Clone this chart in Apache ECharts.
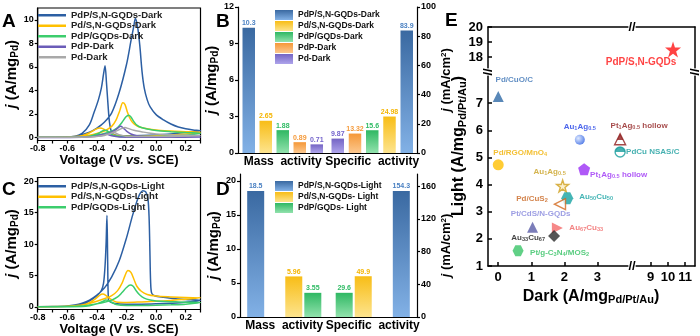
<!DOCTYPE html>
<html>
<head>
<meta charset="utf-8">
<title>Pd catalysts, dark vs light</title>
<script src="https://cdn.jsdelivr.net/npm/echarts@6.0.0/dist/echarts.min.js"></script>
<style>
  html, body { margin: 0; background: #fff; }
  #wrap { position: relative; width: 700px; height: 336px; }
  .layer { position: absolute; left: 0; top: 0; width: 700px; height: 336px; }
</style>
</head>
<body>
<div id="wrap">
  <div class="layer" id="panelA"></div>
  <div class="layer" id="panelB"></div>
  <div class="layer" id="panelC"></div>
  <div class="layer" id="panelD"></div>
  <div class="layer" id="panelE"></div>
</div>
<script>
// ---- values ----
const voltTicks = [-0.8, -0.7, -0.6, -0.5, -0.4, -0.3, -0.2, -0.1, 0, 0.1, 0.2, 0.3]
const voltLabels = [-0.8, -0.6, -0.4, -0.2, 0, 0.2]
const darkCurveTicks = [0, 2, 4, 6, 8, 10]
const lightCurveTicks = [0, 5, 10, 15, 20]

// A: CV scans in the dark, [V, j] in scan order (forward then back)
const darkCurveNames = ['PdP/S,N-GQDs-Dark', 'Pd/S,N-GQDs-Dark', 'PdP/GQDs-Dark', 'PdP-Dark', 'Pd-Dark']
const darkPdPSN = [[-0.8, 0.02], [-0.7, 0.03], [-0.6, 0.06], [-0.55, 0.12], [-0.5, 0.25], [-0.45, 0.45], [-0.4, 0.8], [-0.35, 1.3], [-0.3, 2.1], [-0.25, 3.8], [-0.2, 6.2], [-0.17, 8.2], [-0.15, 9.5], [-0.14, 10.1], [-0.125, 9.4], [-0.11, 7.8], [-0.095, 5.6], [-0.08, 4.2], [-0.06, 3.2], [-0.04, 2.6], [0, 1.95], [0.05, 1.5], [0.1, 1.15], [0.15, 0.9], [0.2, 0.75], [0.25, 0.65], [0.3, 0.58],
  [0.25, 0.5], [0.2, 0.42], [0.1, 0.3], [0, 0.22], [-0.1, 0.18], [-0.2, 0.16], [-0.27, 0.2], [-0.3, 0.45], [-0.315, 1.3], [-0.325, 2.8], [-0.335, 4.6], [-0.345, 6.1], [-0.355, 5.4], [-0.37, 4.2], [-0.39, 3.2], [-0.42, 2.1], [-0.45, 1.1], [-0.5, 0.35], [-0.55, 0.1], [-0.6, 0.04], [-0.8, 0.02]]
const darkPdSN = [[-0.8, 0.02], [-0.6, 0.04], [-0.5, 0.1], [-0.45, 0.2], [-0.4, 0.35], [-0.35, 0.55], [-0.3, 0.95], [-0.27, 1.5], [-0.245, 2.3], [-0.225, 2.95], [-0.21, 2.8], [-0.195, 2.2], [-0.18, 1.7], [-0.16, 1.3], [-0.13, 1.0], [-0.1, 0.85], [-0.05, 0.72], [0, 0.65], [0.1, 0.55], [0.2, 0.5], [0.3, 0.45],
  [0.2, 0.3], [0.1, 0.22], [0, 0.15], [-0.1, 0.12], [-0.2, 0.12], [-0.28, 0.2], [-0.32, 0.45], [-0.35, 0.7], [-0.38, 0.82], [-0.41, 0.7], [-0.45, 0.4], [-0.5, 0.15], [-0.6, 0.04], [-0.8, 0.02]]
const darkPdPGQD = [[-0.8, 0.02], [-0.6, 0.03], [-0.5, 0.06], [-0.45, 0.12], [-0.4, 0.22], [-0.35, 0.35], [-0.3, 0.55], [-0.26, 0.85], [-0.23, 1.3], [-0.205, 1.75], [-0.185, 1.9], [-0.17, 1.75], [-0.15, 1.35], [-0.13, 1.05], [-0.1, 0.85], [-0.05, 0.7], [0, 0.6], [0.1, 0.5], [0.2, 0.42], [0.3, 0.36],
  [0.2, 0.2], [0.1, 0.15], [0, 0.1], [-0.1, 0.08], [-0.2, 0.08], [-0.28, 0.15], [-0.31, 0.35], [-0.335, 0.6], [-0.35, 0.62], [-0.37, 0.5], [-0.4, 0.3], [-0.45, 0.12], [-0.5, 0.05], [-0.8, 0.02]]
const darkPdP = [[-0.8, 0.01], [-0.5, 0.03], [-0.4, 0.1], [-0.33, 0.3], [-0.28, 0.6], [-0.255, 0.85], [-0.24, 0.95], [-0.225, 0.85], [-0.2, 0.55], [-0.17, 0.3], [-0.13, 0.15], [-0.05, 0.08], [0.1, 0.05], [0.3, 0.04],
  [0.1, 0.03], [-0.1, 0.03], [-0.25, 0.05], [-0.3, 0.15], [-0.34, 0.3], [-0.37, 0.25], [-0.42, 0.1], [-0.5, 0.03], [-0.8, 0.01]]
const darkPd = [[-0.8, 0.02], [-0.5, 0.04], [-0.4, 0.1], [-0.32, 0.3], [-0.27, 0.55], [-0.23, 0.78], [-0.21, 0.85], [-0.19, 0.78], [-0.15, 0.62], [-0.1, 0.5], [-0.05, 0.38], [0, 0.3], [0.1, 0.22], [0.3, 0.18],
  [0.1, 0.1], [-0.1, 0.08], [-0.2, 0.1], [-0.25, 0.25], [-0.28, 0.4], [-0.31, 0.35], [-0.36, 0.15], [-0.45, 0.05], [-0.8, 0.02]]

// C: CV scans under light
const lightCurveNames = ['PdP/S,N-GQDs-Light', 'Pd/S,N-GQDs-Light', 'PdP/GQDs-Light']
const lightPdPSN = [[-0.8, 0.05], [-0.7, 0.07], [-0.6, 0.15], [-0.55, 0.3], [-0.5, 0.6], [-0.45, 1.1], [-0.4, 1.9], [-0.35, 3.0], [-0.3, 4.8], [-0.25, 7.3], [-0.2, 11], [-0.16, 14.5], [-0.13, 16.8], [-0.11, 18], [-0.09, 18.5], [-0.07, 18.3], [-0.055, 17.2], [-0.047, 14], [-0.042, 9], [-0.037, 4], [-0.03, 2.2], [-0.01, 1.8], [0.05, 1.55], [0.1, 1.4], [0.2, 1.2], [0.3, 1.05],
  [0.2, 0.75], [0.1, 0.6], [0, 0.5], [-0.1, 0.45], [-0.2, 0.45], [-0.28, 0.55], [-0.31, 0.8], [-0.322, 1.2], [-0.327, 7], [-0.332, 14.6], [-0.338, 10], [-0.345, 6.5], [-0.355, 3.8], [-0.37, 2.6], [-0.4, 1.8], [-0.44, 1.1], [-0.48, 0.55], [-0.53, 0.25], [-0.6, 0.1], [-0.8, 0.05]]
const lightPdSN = [[-0.8, 0.05], [-0.6, 0.1], [-0.5, 0.3], [-0.45, 0.55], [-0.4, 0.9], [-0.35, 1.3], [-0.3, 1.8], [-0.26, 2.6], [-0.23, 3.8], [-0.21, 5.0], [-0.19, 5.8], [-0.17, 5.5], [-0.15, 4.4], [-0.13, 3.3], [-0.1, 2.5], [-0.06, 2.0], [0, 1.75], [0.1, 1.6], [0.2, 1.5], [0.3, 1.45],
  [0.2, 1.25], [0.1, 1.05], [0, 0.9], [-0.1, 0.8], [-0.2, 0.72], [-0.27, 0.8], [-0.31, 1.3], [-0.34, 1.85], [-0.36, 2.05], [-0.38, 1.9], [-0.41, 1.3], [-0.45, 0.7], [-0.5, 0.3], [-0.6, 0.1], [-0.8, 0.05]]
const lightPdPGQD = [[-0.8, 0.03], [-0.6, 0.06], [-0.5, 0.15], [-0.45, 0.3], [-0.4, 0.5], [-0.35, 0.75], [-0.3, 1.1], [-0.26, 1.6], [-0.23, 2.3], [-0.2, 3.1], [-0.175, 3.5], [-0.155, 3.3], [-0.135, 2.6], [-0.11, 1.9], [-0.08, 1.4], [-0.04, 1.1], [0, 0.95], [0.1, 0.85], [0.2, 0.75], [0.3, 0.7],
  [0.2, 0.45], [0.1, 0.35], [0, 0.28], [-0.1, 0.25], [-0.2, 0.25], [-0.27, 0.4], [-0.3, 0.75], [-0.325, 1.05], [-0.34, 1.1], [-0.36, 0.9], [-0.4, 0.5], [-0.45, 0.2], [-0.5, 0.08], [-0.8, 0.03]]

// B / D: activities
const activity = ['Mass  activity', 'Specific  activity']
const darkBarNames = ['PdP/S,N-GQDs-Dark', 'Pd/S,N-GQDs-Dark', 'PdP/GQDs-Dark', 'PdP-Dark', 'Pd-Dark']
const darkMass = [10.3, 2.65, 1.88, 0.89, 0.71]
const darkSpecific = [83.9, 24.98, 15.6, 13.32, 9.87]
const darkMassTicks = [0, 3, 6, 9, 12]
const darkSpecTicks = [0, 20, 40, 60, 80, 100]
const lightBarNames = ['PdP/S,N-GQDs-Light', 'Pd/S,N-GQDs- Light', 'PdP/GQDs- Light']
const lightMass = [18.5, 5.96, 3.55]
const lightSpecific = [154.3, 49.9, 29.6]
const lightMassTicks = [0, 5, 10, 15, 20]
const lightSpecTicks = [0, 40, 80, 120, 160]

// E: literature comparison, dark vs light mass activity
const catNames = ['PdP/S,N-GQDs', 'Pd/CuO/C', 'Au{s|1}Ag{s|0.5}', 'Pt{s|1}Ag{s|0.5} hollow', 'PdCu NSAS/C', 'Pd/RGO/MnO{s|4}',
  'Pt{s|1}Ag{s|0.5} hollow', 'Au{s|1}Ag{s|0.5}', 'Au{s|50}Cu{s|50}', 'Pd/CuS{s|2}', 'Pt/CdS/N-GQDs', 'Au{s|67}Cu{s|33}', 'Au{s|33}Cu{s|67}', 'Pt/g-C{s|3}N{s|4}/MOS{s|2}']
const catDark = [10.3, 0, 2.47, 3.69, 3.69, 0, 2.6, 1.95, 2.09, 1.87, 1.04, 1.79, 1.69, 0.6]
const catLight = [18.5, 7.25, 5.65, 5.67, 5.2, 4.73, 4.57, 3.95, 3.5, 3.28, 2.43, 2.4, 2.11, 1.56]
const eXLow = [0, 1, 2, 3]
const eXHigh = [9, 10, 11]
const eYLow = [1, 2, 3, 4, 5, 6, 7]
const eYHigh = [18, 19, 20]

// ---- styling ----
const font = '"Liberation Sans", Arial, sans-serif'
const ink = '#000'
const curveColors = ['#2c5fa3', '#ffc000', '#3ccd6d', '#6b5cb8', '#a9a9a9']
const barColors = [['#3a69a1', '#82b1e6'], ['#f8bd16', '#fde48e'], ['#2fb863', '#92e2ad'], ['#f59838', '#fcc88f'], ['#7464c4', '#aea4eb']]
const barLabelColors = ['#4a80c2', '#f4b400', '#2fbb64', '#f59a3a', '#7464cc']

const vgrad = (a, b) => new echarts.graphic.LinearGradient(0, 0, 0, 1, [{ offset: 0, color: a }, { offset: 1, color: b }])
const half = c => new echarts.graphic.LinearGradient(0, 0, 0, 1, [{ offset: 0, color: c }, { offset: 0.52, color: c }, { offset: 0.52, color: '#fff' }, { offset: 1, color: '#fff' }])
const sphere = new echarts.graphic.RadialGradient(0.35, 0.35, 0.75, [{ offset: 0, color: '#d6e4ff' }, { offset: 1, color: '#1f55e0' }])
const star = 'path://M50,0 L61.8,35.1 L98.9,35.4 L69.1,57.6 L80.3,93.1 L50,71.6 L19.7,93.1 L30.9,57.6 L1.1,35.4 L38.2,35.1 Z'
const pentagon = 'path://M50,0 L97.6,34.5 L79.4,90.5 L20.6,90.5 L2.4,34.5 Z'
const hexagon = 'path://M25,0 L75,0 L100,50 L75,100 L25,100 L0,50 Z'

const catMarks = [
  { symbol: star, size: 16, fill: '#ff1414', text: '#ff1414', off: [-32, 13], fs: 10 },
  { symbol: 'triangle', size: 11, fill: '#2f6aa6', text: '#3a72b4', off: [16, -17] },
  { symbol: 'circle', size: 10, fill: sphere, text: '#1e3ee6', off: [0, -13] },
  { symbol: 'triangle', size: 11, fill: half('#8e1b1b'), stroke: '#8e1b1b', text: '#8e1b1b', off: [19, -13] },
  { symbol: 'circle', size: 10, fill: half('#169c9c'), stroke: '#169c9c', text: '#169c9c', off: [6, 0], align: 'left' },
  { symbol: 'circle', size: 11, fill: '#ffbf00', text: '#f0b000', off: [22, -12] },
  { symbol: pentagon, size: 12, fill: '#9b2ff5', text: '#9b2ff5', off: [6, 6], align: 'left' },
  { symbol: star, size: 12, fill: '#fbecc0', stroke: '#cfa020', text: '#c9a020', off: [-13, -14] },
  { symbol: hexagon, size: 12, fill: '#16a3a3', text: '#16a3a3', off: [12, -1], align: 'left' },
  { symbol: 'triangle', size: 11, rotate: 90, fill: '#fff', stroke: '#d2691e', text: '#c8641e', off: [-28, -5] },
  { symbol: 'triangle', size: 11, fill: '#5a5ca8', text: '#8486dc', off: [8, -13] },
  { symbol: 'triangle', size: 11, rotate: -90, fill: '#f46a6a', text: '#f06464', off: [12, 0], align: 'left' },
  { symbol: 'diamond', size: 12, fill: '#2b2b2b', text: '#111', off: [-9, 2], align: 'right' },
  { symbol: hexagon, size: 11, fill: '#3ac468', text: '#30c060', off: [12, 2], align: 'left' }
]

function nameStyle(size, sub, extra) {
  return Object.assign({
    color: ink, fontSize: size, fontWeight: 'bold',
    rich: {
      i: { fontStyle: 'italic', fontWeight: 'bold', fontSize: size, color: ink },
      s: { fontSize: sub, fontWeight: 'bold', color: ink, padding: [Math.round(sub * 0.6), 0, 0, 0] },
      p: { fontSize: sub, fontWeight: 'bold', color: ink, padding: [0, 0, Math.round(sub * 0.7), 0] }
    }
  }, extra)
}

function valAxis(o) {
  const lw = o.lw || 1.2
  return {
    type: 'value', gridIndex: o.grid || 0, position: o.pos, min: o.min, max: o.max,
    splitLine: { show: false },
    axisLine: { show: true, onZero: false, lineStyle: { color: ink, width: lw } },
    axisTick: { show: !!o.ticks, inside: !!o.inside, length: o.tickLen || 3, customValues: o.ticks, lineStyle: { color: ink, width: lw } },
    axisLabel: { show: !!o.labels, customValues: o.labels, formatter: o.fmt, margin: o.margin || 4, color: ink, fontSize: o.fs || 9, fontWeight: 'bold' },
    name: o.name, nameLocation: 'middle', nameGap: o.gap, nameTextStyle: o.nameStyle
  }
}

function title(text, left, top) {
  return { text, left, top, padding: 0, textStyle: { fontSize: 19, fontWeight: 'bold', color: ink, fontFamily: font } }
}

function curve(name, data, color) {
  return { name, type: 'line', data, symbol: 'none', smooth: 0.3, lineStyle: { color, width: 1.5 }, itemStyle: { color }, emphasis: { disabled: true } }
}

function barSeries(name, data, xi, yi, ci, w, gap) {
  return {
    name, type: 'bar', xAxisIndex: xi, yAxisIndex: yi, data, barWidth: w, barGap: gap,
    itemStyle: { color: vgrad(barColors[ci][0], barColors[ci][1]) },
    label: { show: true, position: 'top', distance: 1, fontSize: 7, fontWeight: 'bold', color: barLabelColors[ci] },
    emphasis: { disabled: true }
  }
}

function spacer(xi, yi, w, gap) {
  return { type: 'bar', xAxisIndex: xi, yAxisIndex: yi, data: ['-', '-'], barWidth: w, barGap: gap, silent: true }
}

function catAxis(grid, show) {
  return {
    type: 'category', gridIndex: grid, data: activity, show,
    axisLine: { show: true, lineStyle: { color: ink, width: 1.2 } },
    axisTick: { show: false },
    axisLabel: { interval: 0, hideOverlap: false, color: ink, fontSize: 12, fontWeight: 'bold', margin: 3 }
  }
}

const voltFmt = v => v.toFixed(1)
const voltName = 'Voltage (V {i|vs.} SCE)'
const jMass = '{i|j} (A/mg{s|Pd})'
const jArea = '{i|j} (mA/cm{p|2})'

function cvOption(letter, names, curves, grid, ymin, ymax, yticks, legendTop, letterTop) {
  return {
    animation: false,
    textStyle: { fontFamily: font },
    title: title(letter, 2, letterTop),
    legend: {
      orient: 'vertical', left: 38, top: legendTop, padding: 0, itemWidth: 28, itemHeight: 2.5, itemGap: 0, icon: 'rect',
      data: names, textStyle: { fontSize: 9.5, fontWeight: 'bold', color: '#222', lineHeight: 10.5 }
    },
    grid: Object.assign({ show: true, borderColor: ink, borderWidth: 1.2, outerBoundsMode: 'none' }, grid),
    xAxis: valAxis({ min: -0.8, max: 0.3, ticks: voltTicks, labels: voltLabels, fmt: voltFmt, name: voltName, gap: 13, nameStyle: nameStyle(13, 9) }),
    yAxis: valAxis({ min: ymin, max: ymax, ticks: yticks, labels: yticks, name: jMass, gap: 17, nameStyle: nameStyle(15, 10) }),
    series: curves.map((d, i) => curve(names[i], d, curveColors[i]))
  }
}

function barOption(letter, names, grid, legendTop, letterTop, massTicks, massMax, specTicks, specMax, series) {
  return {
    animation: false,
    textStyle: { fontFamily: font },
    title: title(letter, 216, letterTop),
    legend: {
      orient: 'vertical', left: 275, top: legendTop, padding: 0, itemWidth: 18, itemHeight: 10, itemGap: 1, icon: 'rect',
      data: names, textStyle: { fontSize: 8.5, fontWeight: 'bold', color: '#111' }
    },
    grid: Object.assign({ outerBoundsMode: 'none' }, grid),
    xAxis: [catAxis(0, true), catAxis(0, false)],
    yAxis: [
      valAxis({ pos: 'left', min: 0, max: massMax, ticks: massTicks, labels: massTicks, name: jMass, gap: 12, nameStyle: nameStyle(15, 10) }),
      valAxis({ pos: 'right', min: 0, max: specMax, ticks: specTicks, labels: specTicks, name: jArea, gap: 17, nameStyle: nameStyle(13, 8) })
    ],
    series
  }
}

// ---- A ----
const chartA = echarts.init(document.getElementById('panelA'))
chartA.setOption(cvOption('A', darkCurveNames, [darkPdPSN, darkPdSN, darkPdPGQD, darkPdP, darkPd],
  { left: 37.7, top: 8, width: 162.8, height: 132.5 }, -0.25, 11, darkCurveTicks, 10, 12))

// ---- C ----
const chartC = echarts.init(document.getElementById('panelC'))
chartC.setOption(cvOption('C', lightCurveNames, [lightPdPSN, lightPdSN, lightPdPGQD],
  { left: 37.7, top: 177.5, width: 162.8, height: 132 }, -0.4, 20.6, lightCurveTicks, 181, 180))

// ---- B ----
const bSeries = darkBarNames.map((n, i) => barSeries(n, [darkMass[i], '-'], 0, 0, i, 12.5, '36%'))
  .concat(darkBarNames.map((n, i) => i).reverse().map(i => barSeries(darkBarNames[i], ['-', darkSpecific[i]], 1, 1, i, 12.5, '38%')))
const chartB = echarts.init(document.getElementById('panelB'))
chartB.setOption(barOption('B', darkBarNames, { left: 238, top: 7, width: 179, height: 146 }, 10, 12,
  darkMassTicks, 12, darkSpecTicks, 100, bSeries))

// ---- D ----
const dMass = [0, null, 1, 2]
const dSpec = [2, 1, null, 0]
const dSeries = dMass.map(i => i === null ? spacer(0, 0, 17, '12%') : barSeries(lightBarNames[i], [lightMass[i], '-'], 0, 0, i, 17, '12%'))
  .concat(dSpec.map(i => i === null ? spacer(1, 1, 17, '12%') : barSeries(lightBarNames[i], ['-', lightSpecific[i]], 1, 1, i, 17, '12%')))
const chartD = echarts.init(document.getElementById('panelD'))
chartD.setOption(barOption('D', lightBarNames, { left: 240, top: 174, width: 177, height: 143 }, 181, 180,
  lightMassTicks, 21, lightSpecTicks, 175, dSeries))

// ---- E ----
function catPoint(i) {
  const m = catMarks[i]
  const fs = m.fs || 8
  return {
    name: catNames[i], value: [catDark[i], catLight[i]],
    symbol: m.symbol, symbolSize: m.size, symbolRotate: m.rotate || 0,
    itemStyle: { color: m.fill, borderColor: m.stroke || m.fill, borderWidth: m.stroke ? 1.4 : 0 },
    label: {
      show: true, position: 'inside', offset: m.off, align: m.align || 'center', verticalAlign: 'middle',
      color: m.text, fontSize: fs, fontWeight: 'bold', formatter: p => p.name,
      textBorderWidth: 0,
      rich: { s: { fontSize: fs * 0.7, fontWeight: 'bold', color: m.text, padding: [3, 0, 0, 0] } }
    }
  }
}
const lowIdx = catDark.map((v, i) => i).filter(i => catDark[i] < 4.05 && catLight[i] < 8.15)
const highIdx = catDark.map((v, i) => i).filter(i => catDark[i] >= 4.05)

const xLowRange = [-0.31, 4.05], xHighRange = [7.91, 11.58]
const yLowRange = [1, 8.15], yHighRange = [17, 20]
const eName = 'A/mg{s|Pd/Pt/Au}'

const chartE = echarts.init(document.getElementById('panelE'))
chartE.setOption({
  animation: false,
  textStyle: { fontFamily: font },
  title: title('E', 445, 11),
  grid: [
    { left: 488, top: 72, width: 144, height: 194, outerBoundsMode: 'none' },
    { left: 632, top: 72, width: 63, height: 194, outerBoundsMode: 'none' },
    { left: 488, top: 27, width: 144, height: 45, outerBoundsMode: 'none' },
    { left: 632, top: 27, width: 63, height: 45, outerBoundsMode: 'none' }
  ],
  xAxis: [
    valAxis({ grid: 0, pos: 'bottom', min: xLowRange[0], max: xLowRange[1], ticks: eXLow, labels: eXLow, inside: true, tickLen: 4, fs: 13, margin: 5, lw: 1.5,
      name: 'Dark (' + eName + ')', gap: 20, nameStyle: nameStyle(16, 11, { padding: [0, 0, 0, 62] }) }),
    valAxis({ grid: 1, pos: 'bottom', min: xHighRange[0], max: xHighRange[1], ticks: eXHigh, labels: eXHigh, inside: true, tickLen: 4, fs: 13, margin: 5, lw: 1.5 }),
    valAxis({ grid: 2, pos: 'top', min: xLowRange[0], max: xLowRange[1], lw: 1.5 }),
    valAxis({ grid: 3, pos: 'top', min: xHighRange[0], max: xHighRange[1], lw: 1.5 })
  ],
  yAxis: [
    valAxis({ grid: 0, pos: 'left', min: yLowRange[0], max: yLowRange[1], ticks: eYLow, labels: eYLow, inside: true, tickLen: 4, fs: 13, margin: 5, lw: 1.5,
      name: 'Light (' + eName + ')', gap: 20, nameStyle: nameStyle(16, 11, { padding: [0, 0, 0, 46] }) }),
    valAxis({ grid: 1, pos: 'right', min: yLowRange[0], max: yLowRange[1], lw: 1.5 }),
    valAxis({ grid: 2, pos: 'left', min: yHighRange[0], max: yHighRange[1], ticks: eYHigh, labels: eYHigh, inside: true, tickLen: 4, fs: 13, margin: 5, lw: 1.5 }),
    valAxis({ grid: 3, pos: 'right', min: yHighRange[0], max: yHighRange[1], lw: 1.5 })
  ],
  graphic: [
    [632, 27, 0], [632, 266, 0], [488, 72, Math.PI / 2], [695, 72, Math.PI / 2]
  ].map(([x, y, r]) => ({
    type: 'text', x, y, rotation: r, z: 100,
    style: { text: '//', font: 'bold 13px ' + font, fill: ink, align: 'center', verticalAlign: 'middle', backgroundColor: '#fff' }
  })),
  series: [
    { type: 'scatter', xAxisIndex: 0, yAxisIndex: 0, data: lowIdx.map(catPoint), emphasis: { disabled: true } },
    { type: 'scatter', xAxisIndex: 3, yAxisIndex: 3, data: highIdx.map(catPoint), emphasis: { disabled: true } }
  ]
})
</script>
</body>
</html>
